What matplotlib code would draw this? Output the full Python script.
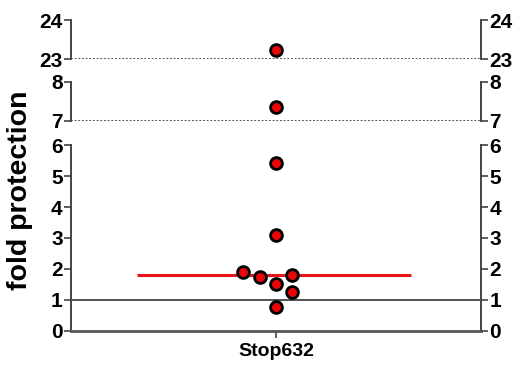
import numpy as np
import matplotlib
matplotlib.use("Agg")
import matplotlib.pyplot as plt

plt.rcParams['font.family'] = ['Liberation Sans', 'DejaVu Sans']
plt.rcParams['font.weight'] = 'bold'

# data
category = "Stop632"
values = [23.23, 7.36, 5.42, 3.1, 1.9, 1.74, 1.52, 1.8, 1.26, 0.77]
jitter = [0.0, 0.0, 0.0, 0.0, -0.16, -0.08, 0.0, 0.08, 0.08, 0.0]
median_val = 1.8
ref_line = 1.0

# panels: (ymin, ymax, ticks)
panels = [(23, 24, [23, 24]), (7, 8, [7, 8]), (0, 6, [0, 1, 2, 3, 4, 5, 6])]
rects = [(0.1363, 0.8392, 0.787, 0.1063),
         (0.1363, 0.6703, 0.787, 0.1063),
         (0.1363, 0.0981, 0.787, 0.5068)]

fig = plt.figure(figsize=(5.21, 3.67), dpi=100)
spine_col = '#444444'
for k, ((lo, hi, ticks), r) in enumerate(zip(panels, rects)):
    ax = fig.add_axes(r)
    ax.set_xlim(-1, 1)
    ax.set_ylim(lo, hi)
    ax.set_facecolor('none')
    ax.spines['top'].set_visible(False)
    for s in ['left', 'right']:
        ax.spines[s].set_color(spine_col)
        ax.spines[s].set_linewidth(1.4)
    ax.yaxis.set_ticks_position('both')
    ax.tick_params(axis='y', which='both', direction='out', length=5, width=1.2,
                   color=spine_col, labelsize=15, pad=1,
                   labelleft=True, labelright=True)
    ax.set_yticks(ticks)
    ax.set_yticklabels([str(t) for t in ticks], fontweight='bold')
    ax.spines['bottom'].set_visible(k == 2)
    if k == 2:
        ax.spines['bottom'].set_color('#555555')
        ax.spines['bottom'].set_linewidth(2)
        ax.set_xticks([0])
        ax.set_xticklabels([category], fontsize=14, fontweight='bold')
        ax.tick_params(axis='x', direction='out', length=5, width=1.2,
                       color=spine_col, pad=4)
        ax.axhline(ref_line, color='#222222', lw=1.1, zorder=1)
        ax.hlines(median_val, -0.68, 0.66, color='#e8161b', lw=2.2, zorder=2)
    else:
        ax.set_xticks([])
        ax.axhline(lo, color='#222222', lw=1.1, ls=(0, (1.2, 1.2)), zorder=1)
    xs = [j for v, j in zip(values, jitter) if lo <= v <= hi]
    ys = [v for v in values if lo <= v <= hi]
    ax.plot(xs, ys, 'o', ms=8.5, mfc='#e8050a', mec='black', mew=2.0,
            clip_on=False, zorder=3)

fig.text(0.038, 0.482, 'fold protection', rotation=90, fontsize=20.5,
         fontweight='bold', ha='center', va='center')

fig.savefig('out.png', dpi=100)
